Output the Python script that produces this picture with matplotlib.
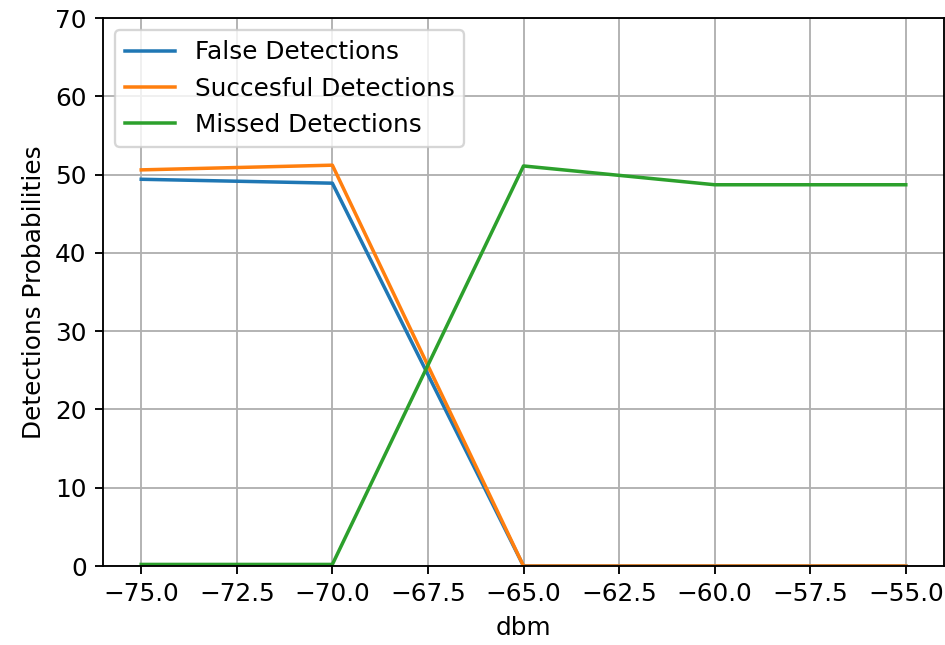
import matplotlib
matplotlib.use("Agg")
import matplotlib.pyplot as plt

# values
dbm = [-75, -70, -65, -60, -55]
false_det = [49.4, 48.9, 0.0, 0.0, 0.0]
success_det = [50.6, 51.2, 0.0, 0.0, 0.0]
missed_det = [0.2, 0.2, 51.1, 48.7, 48.7]

plt.rcParams['font.size'] = 10.6

dpi = 168
fig = plt.figure(figsize=(945 / dpi, 645 / dpi), dpi=dpi)
ax = fig.add_axes([103 / 945, 1 - 566 / 645, (944 - 103) / 945, (566 - 18) / 645])

ax.plot(dbm, false_det, label='False Detections')
ax.plot(dbm, success_det, label='Succesful Detections')
ax.plot(dbm, missed_det, label='Missed Detections')

ax.set_ylim(0, 70)
ax.set_xlabel('dbm')
ax.set_ylabel('Detections Probabilities')
ax.legend(loc='upper left')
ax.grid(True)

fig.savefig('out.png', dpi=dpi)
